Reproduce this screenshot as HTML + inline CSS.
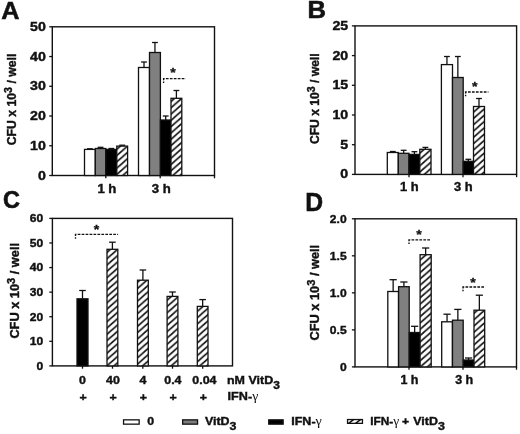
<!DOCTYPE html>
<html><head><meta charset="utf-8"><title>Figure</title>
<style>html,body{margin:0;padding:0;background:#fff;}body{width:520px;height:434px;overflow:hidden;font-family:"Liberation Sans",sans-serif;}svg{display:block;filter:grayscale(1);}</style>
</head><body>
<svg width="520" height="434" viewBox="0 0 520 434">
<defs><pattern id="hatch" patternUnits="userSpaceOnUse" width="7.15" height="6.3" x="1.2" y="-0.9"><rect width="7.15" height="6.3" fill="#fff"/><path d="M-7.15,12.6 L14.3,-6.3 M-14.3,12.6 L7.15,-6.3 M0,12.6 L21.450000000000003,-6.3" stroke="#111" stroke-width="1.6" fill="none"/></pattern></defs>
<rect width="520" height="434" fill="#fff"/>
<text transform="translate(1.30,19.00) scale(1.04,1)" font-family="Liberation Sans" font-weight="bold" font-size="24.3" text-anchor="start" fill="#111" stroke="#111" stroke-width="0.5" >A</text>
<text transform="translate(307.60,18.40) scale(1.07,1)" font-family="Liberation Sans" font-weight="bold" font-size="23.9" text-anchor="start" fill="#111" stroke="#111" stroke-width="0.6" >B</text>
<text transform="translate(2.90,208.10) scale(0.97,1)" font-family="Liberation Sans" font-weight="bold" font-size="24.2" text-anchor="start" fill="#111" stroke="#111" stroke-width="0.6" >C</text>
<text transform="translate(305.20,211.40) scale(0.99,1)" font-family="Liberation Sans" font-weight="bold" font-size="25" text-anchor="start" fill="#111" stroke="#111" stroke-width="0.5" >D</text>
<rect x="52.30" y="26.80" width="162.20" height="148.70" fill="none" stroke="#111" stroke-width="1.4"/>
<line x1="49.20" y1="26.80" x2="52.30" y2="26.80" stroke="#111" stroke-width="1.3" />
<text transform="translate(45.80,30.85) scale(1.18,1)" font-family="Liberation Sans" font-weight="bold" font-size="12" text-anchor="end" fill="#111" stroke="#111" stroke-width="0.4" >50</text>
<line x1="49.20" y1="56.54" x2="52.30" y2="56.54" stroke="#111" stroke-width="1.3" />
<text transform="translate(45.80,60.59) scale(1.18,1)" font-family="Liberation Sans" font-weight="bold" font-size="12" text-anchor="end" fill="#111" stroke="#111" stroke-width="0.4" >40</text>
<line x1="49.20" y1="86.28" x2="52.30" y2="86.28" stroke="#111" stroke-width="1.3" />
<text transform="translate(45.80,90.33) scale(1.18,1)" font-family="Liberation Sans" font-weight="bold" font-size="12" text-anchor="end" fill="#111" stroke="#111" stroke-width="0.4" >30</text>
<line x1="49.20" y1="116.02" x2="52.30" y2="116.02" stroke="#111" stroke-width="1.3" />
<text transform="translate(45.80,120.07) scale(1.18,1)" font-family="Liberation Sans" font-weight="bold" font-size="12" text-anchor="end" fill="#111" stroke="#111" stroke-width="0.4" >20</text>
<line x1="49.20" y1="145.76" x2="52.30" y2="145.76" stroke="#111" stroke-width="1.3" />
<text transform="translate(45.80,149.81) scale(1.18,1)" font-family="Liberation Sans" font-weight="bold" font-size="12" text-anchor="end" fill="#111" stroke="#111" stroke-width="0.4" >10</text>
<line x1="49.20" y1="175.50" x2="52.30" y2="175.50" stroke="#111" stroke-width="1.3" />
<text transform="translate(45.80,179.55) scale(1.18,1)" font-family="Liberation Sans" font-weight="bold" font-size="12" text-anchor="end" fill="#111" stroke="#111" stroke-width="0.4" >0</text>
<line x1="105.80" y1="175.50" x2="105.80" y2="178.30" stroke="#111" stroke-width="1.3" />
<line x1="160.20" y1="175.50" x2="160.20" y2="178.30" stroke="#111" stroke-width="1.3" />
<line x1="214.50" y1="175.50" x2="214.50" y2="178.30" stroke="#111" stroke-width="1.3" />
<line x1="89.90" y1="148.80" x2="89.90" y2="149.40" stroke="#111" stroke-width="1.3" />
<line x1="87.00" y1="148.80" x2="92.80" y2="148.80" stroke="#111" stroke-width="1.3" />
<rect x="84.50" y="149.40" width="10.80" height="26.10" fill="#ffffff" stroke="#111" stroke-width="1.3"/>
<line x1="100.55" y1="147.30" x2="100.55" y2="148.50" stroke="#111" stroke-width="1.3" />
<line x1="97.65" y1="147.30" x2="103.45" y2="147.30" stroke="#111" stroke-width="1.3" />
<rect x="95.30" y="148.50" width="10.50" height="27.00" fill="#808080" stroke="#111" stroke-width="1.3"/>
<line x1="111.30" y1="148.50" x2="111.30" y2="149.40" stroke="#111" stroke-width="1.3" />
<line x1="108.40" y1="148.50" x2="114.20" y2="148.50" stroke="#111" stroke-width="1.3" />
<rect x="105.80" y="149.40" width="11.00" height="26.10" fill="#000000" stroke="#111" stroke-width="1.3"/>
<line x1="122.20" y1="145.20" x2="122.20" y2="146.10" stroke="#111" stroke-width="1.3" />
<line x1="119.30" y1="145.20" x2="125.10" y2="145.20" stroke="#111" stroke-width="1.3" />
<rect x="116.80" y="146.10" width="10.80" height="29.40" fill="url(#hatch)" stroke="#111" stroke-width="1.3"/>
<line x1="144.00" y1="62.00" x2="144.00" y2="67.50" stroke="#111" stroke-width="1.3" />
<line x1="141.10" y1="62.00" x2="146.90" y2="62.00" stroke="#111" stroke-width="1.3" />
<rect x="138.50" y="67.50" width="11.00" height="108.00" fill="#ffffff" stroke="#111" stroke-width="1.3"/>
<line x1="154.95" y1="42.50" x2="154.95" y2="52.50" stroke="#111" stroke-width="1.3" />
<line x1="152.05" y1="42.50" x2="157.85" y2="42.50" stroke="#111" stroke-width="1.3" />
<rect x="149.50" y="52.50" width="10.90" height="123.00" fill="#808080" stroke="#111" stroke-width="1.3"/>
<line x1="165.70" y1="116.00" x2="165.70" y2="120.00" stroke="#111" stroke-width="1.3" />
<line x1="162.80" y1="116.00" x2="168.60" y2="116.00" stroke="#111" stroke-width="1.3" />
<rect x="160.40" y="120.00" width="10.60" height="55.50" fill="#000000" stroke="#111" stroke-width="1.3"/>
<line x1="176.40" y1="90.50" x2="176.40" y2="98.30" stroke="#111" stroke-width="1.3" />
<line x1="173.50" y1="90.50" x2="179.30" y2="90.50" stroke="#111" stroke-width="1.3" />
<rect x="171.00" y="98.30" width="10.80" height="77.20" fill="url(#hatch)" stroke="#111" stroke-width="1.3"/>
<path d="M163.60,83.00 L163.60,78.60 L185.80,78.60" fill="none" stroke="#111" stroke-width="1.35" stroke-dasharray="2.7,1.25" stroke-dashoffset="1.2"/>
<text transform="translate(173.10,76.90) scale(1.05,1)" font-family="Liberation Sans" font-weight="bold" font-size="13.5" text-anchor="middle" fill="#111" stroke="#111" stroke-width="0.3" >*</text>
<text transform="translate(106.90,192.60) scale(1.08,1)" font-family="Liberation Sans" font-weight="bold" font-size="12.2" text-anchor="middle" fill="#111" stroke="#111" stroke-width="0.4" >1 h</text>
<text transform="translate(161.30,192.60) scale(1.08,1)" font-family="Liberation Sans" font-weight="bold" font-size="12.2" text-anchor="middle" fill="#111" stroke="#111" stroke-width="0.4" >3 h</text>
<text transform="translate(15.70,145.30) rotate(-90) scale(1.02,1)" font-family="Liberation Sans" font-weight="bold" font-size="12" text-anchor="start" fill="#111" stroke="#111" stroke-width="0.4" >CFU x 10<tspan dy="-3.8" font-size="10.5">3</tspan><tspan dy="3.8"> / well</tspan></text>
<rect x="355.00" y="25.90" width="161.60" height="148.50" fill="none" stroke="#111" stroke-width="1.4"/>
<line x1="351.90" y1="25.90" x2="355.00" y2="25.90" stroke="#111" stroke-width="1.3" />
<text transform="translate(348.20,29.80) scale(1.18,1)" font-family="Liberation Sans" font-weight="bold" font-size="12" text-anchor="end" fill="#111" stroke="#111" stroke-width="0.4" >25</text>
<line x1="351.90" y1="55.60" x2="355.00" y2="55.60" stroke="#111" stroke-width="1.3" />
<text transform="translate(348.20,59.50) scale(1.18,1)" font-family="Liberation Sans" font-weight="bold" font-size="12" text-anchor="end" fill="#111" stroke="#111" stroke-width="0.4" >20</text>
<line x1="351.90" y1="85.30" x2="355.00" y2="85.30" stroke="#111" stroke-width="1.3" />
<text transform="translate(348.20,89.20) scale(1.18,1)" font-family="Liberation Sans" font-weight="bold" font-size="12" text-anchor="end" fill="#111" stroke="#111" stroke-width="0.4" >15</text>
<line x1="351.90" y1="115.00" x2="355.00" y2="115.00" stroke="#111" stroke-width="1.3" />
<text transform="translate(348.20,118.90) scale(1.18,1)" font-family="Liberation Sans" font-weight="bold" font-size="12" text-anchor="end" fill="#111" stroke="#111" stroke-width="0.4" >10</text>
<line x1="351.90" y1="144.70" x2="355.00" y2="144.70" stroke="#111" stroke-width="1.3" />
<text transform="translate(348.20,148.60) scale(1.18,1)" font-family="Liberation Sans" font-weight="bold" font-size="12" text-anchor="end" fill="#111" stroke="#111" stroke-width="0.4" >5</text>
<line x1="351.90" y1="174.40" x2="355.00" y2="174.40" stroke="#111" stroke-width="1.3" />
<text transform="translate(348.20,178.30) scale(1.18,1)" font-family="Liberation Sans" font-weight="bold" font-size="12" text-anchor="end" fill="#111" stroke="#111" stroke-width="0.4" >0</text>
<line x1="409.00" y1="174.40" x2="409.00" y2="177.20" stroke="#111" stroke-width="1.3" />
<line x1="463.00" y1="174.40" x2="463.00" y2="177.20" stroke="#111" stroke-width="1.3" />
<line x1="516.60" y1="174.40" x2="516.60" y2="177.20" stroke="#111" stroke-width="1.3" />
<line x1="392.80" y1="151.50" x2="392.80" y2="152.50" stroke="#111" stroke-width="1.3" />
<line x1="389.90" y1="151.50" x2="395.70" y2="151.50" stroke="#111" stroke-width="1.3" />
<rect x="387.30" y="152.50" width="11.00" height="21.90" fill="#ffffff" stroke="#111" stroke-width="1.3"/>
<line x1="403.65" y1="150.30" x2="403.65" y2="153.30" stroke="#111" stroke-width="1.3" />
<line x1="400.75" y1="150.30" x2="406.55" y2="150.30" stroke="#111" stroke-width="1.3" />
<rect x="398.30" y="153.30" width="10.70" height="21.10" fill="#808080" stroke="#111" stroke-width="1.3"/>
<line x1="414.40" y1="151.70" x2="414.40" y2="154.40" stroke="#111" stroke-width="1.3" />
<line x1="411.50" y1="151.70" x2="417.30" y2="151.70" stroke="#111" stroke-width="1.3" />
<rect x="409.00" y="154.40" width="10.80" height="20.00" fill="#000000" stroke="#111" stroke-width="1.3"/>
<line x1="425.40" y1="147.40" x2="425.40" y2="149.30" stroke="#111" stroke-width="1.3" />
<line x1="422.50" y1="147.40" x2="428.30" y2="147.40" stroke="#111" stroke-width="1.3" />
<rect x="419.80" y="149.30" width="11.20" height="25.10" fill="url(#hatch)" stroke="#111" stroke-width="1.3"/>
<line x1="446.95" y1="56.50" x2="446.95" y2="64.60" stroke="#111" stroke-width="1.3" />
<line x1="444.05" y1="56.50" x2="449.85" y2="56.50" stroke="#111" stroke-width="1.3" />
<rect x="441.40" y="64.60" width="11.10" height="109.80" fill="#ffffff" stroke="#111" stroke-width="1.3"/>
<line x1="457.85" y1="56.50" x2="457.85" y2="77.50" stroke="#111" stroke-width="1.3" />
<line x1="454.95" y1="56.50" x2="460.75" y2="56.50" stroke="#111" stroke-width="1.3" />
<rect x="452.50" y="77.50" width="10.70" height="96.90" fill="#808080" stroke="#111" stroke-width="1.3"/>
<line x1="468.35" y1="159.30" x2="468.35" y2="161.30" stroke="#111" stroke-width="1.3" />
<line x1="465.45" y1="159.30" x2="471.25" y2="159.30" stroke="#111" stroke-width="1.3" />
<rect x="463.20" y="161.30" width="10.30" height="13.10" fill="#000000" stroke="#111" stroke-width="1.3"/>
<line x1="479.00" y1="98.50" x2="479.00" y2="106.50" stroke="#111" stroke-width="1.3" />
<line x1="476.10" y1="98.50" x2="481.90" y2="98.50" stroke="#111" stroke-width="1.3" />
<rect x="473.50" y="106.50" width="11.00" height="67.90" fill="url(#hatch)" stroke="#111" stroke-width="1.3"/>
<path d="M465.60,96.30 L465.60,92.00 L488.40,92.00" fill="none" stroke="#111" stroke-width="1.35" stroke-dasharray="2.7,1.25" stroke-dashoffset="1.2"/>
<text transform="translate(474.80,90.60) scale(1.05,1)" font-family="Liberation Sans" font-weight="bold" font-size="13.5" text-anchor="middle" fill="#111" stroke="#111" stroke-width="0.3" >*</text>
<text transform="translate(409.30,190.70) scale(1.06,1)" font-family="Liberation Sans" font-weight="bold" font-size="12.2" text-anchor="middle" fill="#111" stroke="#111" stroke-width="0.4" >1 h</text>
<text transform="translate(463.40,190.70) scale(1.06,1)" font-family="Liberation Sans" font-weight="bold" font-size="12.2" text-anchor="middle" fill="#111" stroke="#111" stroke-width="0.4" >3 h</text>
<text transform="translate(319.00,144.10) rotate(-90) scale(1.01,1)" font-family="Liberation Sans" font-weight="bold" font-size="12" text-anchor="start" fill="#111" stroke="#111" stroke-width="0.4" >CFU x 10<tspan dy="-3.8" font-size="10.5">3</tspan><tspan dy="3.8"> / well</tspan></text>
<rect x="52.40" y="218.40" width="180.10" height="147.50" fill="none" stroke="#111" stroke-width="1.4"/>
<line x1="49.30" y1="218.40" x2="52.40" y2="218.40" stroke="#111" stroke-width="1.3" />
<text transform="translate(43.20,222.28) scale(1.06,1)" font-family="Liberation Sans" font-weight="bold" font-size="11.4" text-anchor="end" fill="#111" stroke="#111" stroke-width="0.4" >60</text>
<line x1="49.30" y1="242.98" x2="52.40" y2="242.98" stroke="#111" stroke-width="1.3" />
<text transform="translate(43.20,246.86) scale(1.06,1)" font-family="Liberation Sans" font-weight="bold" font-size="11.4" text-anchor="end" fill="#111" stroke="#111" stroke-width="0.4" >50</text>
<line x1="49.30" y1="267.57" x2="52.40" y2="267.57" stroke="#111" stroke-width="1.3" />
<text transform="translate(43.20,271.45) scale(1.06,1)" font-family="Liberation Sans" font-weight="bold" font-size="11.4" text-anchor="end" fill="#111" stroke="#111" stroke-width="0.4" >40</text>
<line x1="49.30" y1="292.15" x2="52.40" y2="292.15" stroke="#111" stroke-width="1.3" />
<text transform="translate(43.20,296.03) scale(1.06,1)" font-family="Liberation Sans" font-weight="bold" font-size="11.4" text-anchor="end" fill="#111" stroke="#111" stroke-width="0.4" >30</text>
<line x1="49.30" y1="316.73" x2="52.40" y2="316.73" stroke="#111" stroke-width="1.3" />
<text transform="translate(43.20,320.61) scale(1.06,1)" font-family="Liberation Sans" font-weight="bold" font-size="11.4" text-anchor="end" fill="#111" stroke="#111" stroke-width="0.4" >20</text>
<line x1="49.30" y1="341.32" x2="52.40" y2="341.32" stroke="#111" stroke-width="1.3" />
<text transform="translate(43.20,345.20) scale(1.06,1)" font-family="Liberation Sans" font-weight="bold" font-size="11.4" text-anchor="end" fill="#111" stroke="#111" stroke-width="0.4" >10</text>
<line x1="49.30" y1="365.90" x2="52.40" y2="365.90" stroke="#111" stroke-width="1.3" />
<text transform="translate(43.20,369.78) scale(1.06,1)" font-family="Liberation Sans" font-weight="bold" font-size="11.4" text-anchor="end" fill="#111" stroke="#111" stroke-width="0.4" >0</text>
<line x1="82.50" y1="365.90" x2="82.50" y2="368.70" stroke="#111" stroke-width="1.3" />
<line x1="112.50" y1="365.90" x2="112.50" y2="368.70" stroke="#111" stroke-width="1.3" />
<line x1="142.80" y1="365.90" x2="142.80" y2="368.70" stroke="#111" stroke-width="1.3" />
<line x1="172.50" y1="365.90" x2="172.50" y2="368.70" stroke="#111" stroke-width="1.3" />
<line x1="202.70" y1="365.90" x2="202.70" y2="368.70" stroke="#111" stroke-width="1.3" />
<line x1="82.50" y1="290.50" x2="82.50" y2="298.80" stroke="#111" stroke-width="1.3" />
<line x1="79.20" y1="290.50" x2="85.80" y2="290.50" stroke="#111" stroke-width="1.3" />
<rect x="77.00" y="298.80" width="11.00" height="67.10" fill="#000000" stroke="#111" stroke-width="1.3"/>
<line x1="112.40" y1="242.20" x2="112.40" y2="249.30" stroke="#111" stroke-width="1.3" />
<line x1="109.10" y1="242.20" x2="115.70" y2="242.20" stroke="#111" stroke-width="1.3" />
<rect x="107.00" y="249.30" width="10.80" height="116.60" fill="url(#hatch)" stroke="#111" stroke-width="1.3"/>
<line x1="142.90" y1="270.00" x2="142.90" y2="280.20" stroke="#111" stroke-width="1.3" />
<line x1="139.60" y1="270.00" x2="146.20" y2="270.00" stroke="#111" stroke-width="1.3" />
<rect x="137.50" y="280.20" width="10.80" height="85.70" fill="url(#hatch)" stroke="#111" stroke-width="1.3"/>
<line x1="172.50" y1="292.00" x2="172.50" y2="296.40" stroke="#111" stroke-width="1.3" />
<line x1="169.20" y1="292.00" x2="175.80" y2="292.00" stroke="#111" stroke-width="1.3" />
<rect x="167.10" y="296.40" width="10.80" height="69.50" fill="url(#hatch)" stroke="#111" stroke-width="1.3"/>
<line x1="202.65" y1="299.60" x2="202.65" y2="306.40" stroke="#111" stroke-width="1.3" />
<line x1="199.35" y1="299.60" x2="205.95" y2="299.60" stroke="#111" stroke-width="1.3" />
<rect x="197.30" y="306.40" width="10.70" height="59.50" fill="url(#hatch)" stroke="#111" stroke-width="1.3"/>
<path d="M75.50,238.80 L75.50,234.30 L118.10,234.30" fill="none" stroke="#111" stroke-width="1.35" stroke-dasharray="2.7,1.25" stroke-dashoffset="1.2"/>
<text transform="translate(96.40,233.80) scale(1.05,1)" font-family="Liberation Sans" font-weight="bold" font-size="13.5" text-anchor="middle" fill="#111" stroke="#111" stroke-width="0.3" >*</text>
<text transform="translate(82.50,384.30) scale(1.08,1)" font-family="Liberation Sans" font-weight="bold" font-size="11.5" text-anchor="middle" fill="#111" stroke="#111" stroke-width="0.4" >0</text>
<text transform="translate(112.90,384.30) scale(1.08,1)" font-family="Liberation Sans" font-weight="bold" font-size="11.5" text-anchor="middle" fill="#111" stroke="#111" stroke-width="0.4" >40</text>
<text transform="translate(142.90,384.30) scale(1.08,1)" font-family="Liberation Sans" font-weight="bold" font-size="11.5" text-anchor="middle" fill="#111" stroke="#111" stroke-width="0.4" >4</text>
<text transform="translate(172.90,384.30) scale(1.08,1)" font-family="Liberation Sans" font-weight="bold" font-size="11.5" text-anchor="middle" fill="#111" stroke="#111" stroke-width="0.4" >0.4</text>
<text transform="translate(204.40,384.30) scale(1.08,1)" font-family="Liberation Sans" font-weight="bold" font-size="11.5" text-anchor="middle" fill="#111" stroke="#111" stroke-width="0.4" >0.04</text>
<text transform="translate(83.10,400.60) scale(1.08,1)" font-family="Liberation Sans" font-weight="bold" font-size="11.5" text-anchor="middle" fill="#111" stroke="#111" stroke-width="0.4" >+</text>
<text transform="translate(113.10,400.60) scale(1.08,1)" font-family="Liberation Sans" font-weight="bold" font-size="11.5" text-anchor="middle" fill="#111" stroke="#111" stroke-width="0.4" >+</text>
<text transform="translate(143.40,400.60) scale(1.08,1)" font-family="Liberation Sans" font-weight="bold" font-size="11.5" text-anchor="middle" fill="#111" stroke="#111" stroke-width="0.4" >+</text>
<text transform="translate(173.10,400.60) scale(1.08,1)" font-family="Liberation Sans" font-weight="bold" font-size="11.5" text-anchor="middle" fill="#111" stroke="#111" stroke-width="0.4" >+</text>
<text transform="translate(203.30,400.60) scale(1.08,1)" font-family="Liberation Sans" font-weight="bold" font-size="11.5" text-anchor="middle" fill="#111" stroke="#111" stroke-width="0.4" >+</text>
<text transform="translate(227.00,384.30) scale(1.085,1)" font-family="Liberation Sans" font-weight="bold" font-size="11.5" text-anchor="start" fill="#111" stroke="#111" stroke-width="0.4" >nM VitD<tspan dy="4.3" font-size="11">3</tspan></text>
<text transform="translate(227.60,400.40) scale(1.1,1)" font-family="Liberation Sans" font-weight="bold" font-size="11.5" text-anchor="start" fill="#111" stroke="#111" stroke-width="0.4" >IFN-<tspan font-family="Liberation Serif" font-weight="normal" font-size="12.5" stroke-width="0">γ</tspan></text>
<text transform="translate(19.00,338.60) rotate(-90) scale(1.065,1)" font-family="Liberation Sans" font-weight="bold" font-size="12" text-anchor="start" fill="#111" stroke="#111" stroke-width="0.4" >CFU x 10<tspan dy="-3.8" font-size="10.5">3</tspan><tspan dy="3.8"> / well</tspan></text>
<rect x="355.00" y="218.80" width="161.50" height="148.10" fill="none" stroke="#111" stroke-width="1.4"/>
<line x1="351.90" y1="218.80" x2="355.00" y2="218.80" stroke="#111" stroke-width="1.3" />
<text transform="translate(346.60,222.68) scale(1.06,1)" font-family="Liberation Sans" font-weight="bold" font-size="11.4" text-anchor="end" fill="#111" stroke="#111" stroke-width="0.4" >2.0</text>
<line x1="351.90" y1="255.82" x2="355.00" y2="255.82" stroke="#111" stroke-width="1.3" />
<text transform="translate(346.60,259.71) scale(1.06,1)" font-family="Liberation Sans" font-weight="bold" font-size="11.4" text-anchor="end" fill="#111" stroke="#111" stroke-width="0.4" >1.5</text>
<line x1="351.90" y1="292.85" x2="355.00" y2="292.85" stroke="#111" stroke-width="1.3" />
<text transform="translate(346.60,296.73) scale(1.06,1)" font-family="Liberation Sans" font-weight="bold" font-size="11.4" text-anchor="end" fill="#111" stroke="#111" stroke-width="0.4" >1.0</text>
<line x1="351.90" y1="329.88" x2="355.00" y2="329.88" stroke="#111" stroke-width="1.3" />
<text transform="translate(346.60,333.76) scale(1.06,1)" font-family="Liberation Sans" font-weight="bold" font-size="11.4" text-anchor="end" fill="#111" stroke="#111" stroke-width="0.4" >0.5</text>
<line x1="351.90" y1="366.90" x2="355.00" y2="366.90" stroke="#111" stroke-width="1.3" />
<text transform="translate(346.60,370.78) scale(1.06,1)" font-family="Liberation Sans" font-weight="bold" font-size="11.4" text-anchor="end" fill="#111" stroke="#111" stroke-width="0.4" >0</text>
<line x1="409.00" y1="366.90" x2="409.00" y2="369.70" stroke="#111" stroke-width="1.3" />
<line x1="463.00" y1="366.90" x2="463.00" y2="369.70" stroke="#111" stroke-width="1.3" />
<line x1="516.50" y1="366.90" x2="516.50" y2="369.70" stroke="#111" stroke-width="1.3" />
<line x1="393.15" y1="279.70" x2="393.15" y2="291.50" stroke="#111" stroke-width="1.3" />
<line x1="389.55" y1="279.70" x2="396.75" y2="279.70" stroke="#111" stroke-width="1.3" />
<rect x="387.80" y="291.50" width="10.70" height="75.40" fill="#ffffff" stroke="#111" stroke-width="1.3"/>
<line x1="403.90" y1="282.00" x2="403.90" y2="286.70" stroke="#111" stroke-width="1.3" />
<line x1="400.30" y1="282.00" x2="407.50" y2="282.00" stroke="#111" stroke-width="1.3" />
<rect x="398.60" y="286.70" width="10.60" height="80.20" fill="#808080" stroke="#111" stroke-width="1.3"/>
<line x1="414.65" y1="326.30" x2="414.65" y2="332.50" stroke="#111" stroke-width="1.3" />
<line x1="411.05" y1="326.30" x2="418.25" y2="326.30" stroke="#111" stroke-width="1.3" />
<rect x="409.30" y="332.50" width="10.70" height="34.40" fill="#000000" stroke="#111" stroke-width="1.3"/>
<line x1="425.65" y1="248.00" x2="425.65" y2="254.70" stroke="#111" stroke-width="1.3" />
<line x1="422.05" y1="248.00" x2="429.25" y2="248.00" stroke="#111" stroke-width="1.3" />
<rect x="420.10" y="254.70" width="11.10" height="112.20" fill="url(#hatch)" stroke="#111" stroke-width="1.3"/>
<line x1="447.05" y1="314.20" x2="447.05" y2="321.80" stroke="#111" stroke-width="1.3" />
<line x1="443.45" y1="314.20" x2="450.65" y2="314.20" stroke="#111" stroke-width="1.3" />
<rect x="441.70" y="321.80" width="10.70" height="45.10" fill="#ffffff" stroke="#111" stroke-width="1.3"/>
<line x1="457.85" y1="309.40" x2="457.85" y2="320.20" stroke="#111" stroke-width="1.3" />
<line x1="454.25" y1="309.40" x2="461.45" y2="309.40" stroke="#111" stroke-width="1.3" />
<rect x="452.50" y="320.20" width="10.70" height="46.70" fill="#808080" stroke="#111" stroke-width="1.3"/>
<line x1="468.60" y1="358.00" x2="468.60" y2="360.00" stroke="#111" stroke-width="1.3" />
<line x1="465.00" y1="358.00" x2="472.20" y2="358.00" stroke="#111" stroke-width="1.3" />
<rect x="463.30" y="360.00" width="10.60" height="6.90" fill="#000000" stroke="#111" stroke-width="1.3"/>
<line x1="479.35" y1="295.20" x2="479.35" y2="310.20" stroke="#111" stroke-width="1.3" />
<line x1="475.75" y1="295.20" x2="482.95" y2="295.20" stroke="#111" stroke-width="1.3" />
<rect x="474.00" y="310.20" width="10.70" height="56.70" fill="url(#hatch)" stroke="#111" stroke-width="1.3"/>
<path d="M409.00,244.00 L409.00,239.80 L430.60,239.80" fill="none" stroke="#111" stroke-width="1.35" stroke-dasharray="2.7,1.25" stroke-dashoffset="1.2"/>
<text transform="translate(419.00,239.30) scale(1.05,1)" font-family="Liberation Sans" font-weight="bold" font-size="13.5" text-anchor="middle" fill="#111" stroke="#111" stroke-width="0.3" >*</text>
<path d="M463.00,291.20 L463.00,287.00 L485.00,287.00" fill="none" stroke="#111" stroke-width="1.35" stroke-dasharray="2.7,1.25" stroke-dashoffset="1.2"/>
<text transform="translate(472.90,286.50) scale(1.05,1)" font-family="Liberation Sans" font-weight="bold" font-size="13.5" text-anchor="middle" fill="#111" stroke="#111" stroke-width="0.3" >*</text>
<text transform="translate(409.40,384.30) scale(1.04,1)" font-family="Liberation Sans" font-weight="bold" font-size="12" text-anchor="middle" fill="#111" stroke="#111" stroke-width="0.4" >1 h</text>
<text transform="translate(464.20,384.30) scale(1.04,1)" font-family="Liberation Sans" font-weight="bold" font-size="12" text-anchor="middle" fill="#111" stroke="#111" stroke-width="0.4" >3 h</text>
<text transform="translate(319.00,340.40) rotate(-90) scale(1.065,1)" font-family="Liberation Sans" font-weight="bold" font-size="12" text-anchor="start" fill="#111" stroke="#111" stroke-width="0.4" >CFU x 10<tspan dy="-3.8" font-size="10.5">3</tspan><tspan dy="3.8"> / well</tspan></text>
<rect x="123.55" y="419.85" width="15.60" height="4.30" fill="#fff" stroke="#111" stroke-width="1.3"/>
<text transform="translate(147.20,425.40) scale(1.12,1)" font-family="Liberation Sans" font-weight="bold" font-size="11" text-anchor="start" fill="#111" stroke="#111" stroke-width="0.4" >0</text>
<rect x="182.65" y="419.85" width="14.90" height="4.30" fill="#7c7c7c" stroke="#111" stroke-width="1.3"/>
<text transform="translate(204.90,425.40) scale(1.13,1)" font-family="Liberation Sans" font-weight="bold" font-size="11" text-anchor="start" fill="#111" stroke="#111" stroke-width="0.4" >VitD<tspan dy="4.8" font-size="11">3</tspan></text>
<rect x="268.75" y="419.85" width="14.40" height="4.30" fill="#000" stroke="#111" stroke-width="1.3"/>
<text transform="translate(291.20,425.40) scale(1.14,1)" font-family="Liberation Sans" font-weight="bold" font-size="11" text-anchor="start" fill="#111" stroke="#111" stroke-width="0.4" >IFN-<tspan font-family="Liberation Serif" font-weight="normal" font-size="12.5" stroke-width="0">γ</tspan></text>
<rect x="347.55" y="419.55" width="14.90" height="3.80" fill="#fff" stroke="#111" stroke-width="1.3"/>
<path d="M348.7,423.4 L353.8,419.4 M355.6,423.4 L360.8,419.4" stroke="#111" stroke-width="1.5" fill="none"/>
<text transform="translate(370.20,425.40) scale(1.08,1)" font-family="Liberation Sans" font-weight="bold" font-size="11" text-anchor="start" fill="#111" stroke="#111" stroke-width="0.4" >IFN-<tspan font-family="Liberation Serif" font-weight="normal" font-size="12.5" stroke-width="0">γ</tspan></text>
<text transform="translate(405.60,425.40) scale(1.1,1)" font-family="Liberation Sans" font-weight="bold" font-size="11" text-anchor="middle" fill="#111" stroke="#111" stroke-width="0.4" >+</text>
<text transform="translate(413.30,425.40) scale(1.13,1)" font-family="Liberation Sans" font-weight="bold" font-size="11" text-anchor="start" fill="#111" stroke="#111" stroke-width="0.4" >VitD<tspan dy="4.8" font-size="11">3</tspan></text>
</svg>
</body></html>
